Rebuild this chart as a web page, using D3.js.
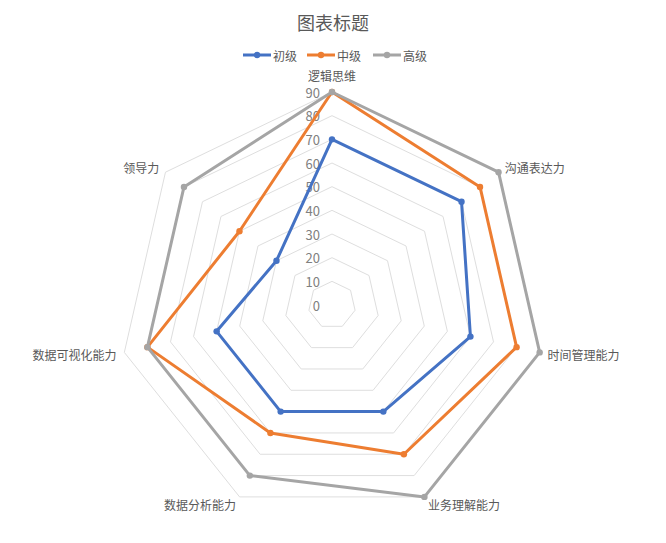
<!DOCTYPE html>
<html><head><meta charset="utf-8">
<script src="https://cdn.jsdelivr.net/npm/d3@7"></script>
<style>body{margin:0;background:#fff;} text{font-family:"Noto Sans CJK SC","Microsoft YaHei",sans-serif;}</style>
</head><body>
<svg id="c" width="666" height="543"></svg>
<script>
const categories = ["逻辑思维","沟通表达力","时间管理能力","业务理解能力","数据分析能力","数据可视化能力","领导力"];
const seriesNames = ["初级","中级","高级"];
const junior = [70,70,60,50,50,50,30];
const middle = [90,80,80,70,60,80,50];
const senior = [90,90,90,90,80,80,80];
const ticks = [0,10,20,30,40,50,60,70,80,90];
const colors = ["#4472C4","#ED7D31","#A5A5A5"];
const series = [junior, middle, senior];

const svg = d3.select("#c");
const cx = 332, cy = 305;
const r = d3.scaleLinear().domain([0,90]).range([0,213]);
const ang = d3.scaleLinear().domain([0,categories.length]).range([0,2*Math.PI]);
const pt = (i,v) => [cx + r(v)*Math.sin(ang(i)), cy - r(v)*Math.cos(ang(i))];

// title
svg.append("text").attr("x",333).attr("y",22).attr("text-anchor","middle").attr("dominant-baseline","central")
  .attr("font-size",18).attr("fill","#595959").text("图表标题");

// grid
const gridG = svg.append("g");
ticks.filter(t=>t>0).forEach(t=>{
  gridG.append("path").attr("d", d3.line()(categories.map((c,i)=>pt(i,t)))+"Z")
    .attr("fill","none").attr("stroke","#DEDEDE").attr("stroke-width",1);
});

// tick labels
svg.append("g").selectAll("text").data(ticks).join("text")
  .attr("x",320).attr("y",d=>cy - r(d)).attr("text-anchor","end").attr("dominant-baseline","central")
  .attr("font-size",13).attr("fill","#808080").text(d=>d);

// series
series.forEach((vals,k)=>{
  const g = svg.append("g");
  g.append("path").attr("d", d3.line()(vals.map((v,i)=>pt(i,v)))+"Z")
    .attr("fill","none").attr("stroke",colors[k]).attr("stroke-width",3).attr("stroke-linejoin","round");
  g.selectAll("circle").data(vals).join("circle")
    .attr("cx",(v,i)=>pt(i,v)[0]).attr("cy",(v,i)=>pt(i,v)[1]).attr("r",3.2).attr("fill",colors[k]);
});

// category labels
svg.append("g").selectAll("text").data(categories).join("text")
  .attr("x",(d,i)=>cx + (r(90)+8)*Math.sin(ang(i)))
  .attr("y",(d,i)=>cy - (r(90)+8)*Math.cos(ang(i)) - (i===0?9:0))
  .attr("text-anchor",(d,i)=>{const s=Math.sin(ang(i)); return s>0.1?"start":(s<-0.1?"end":"middle");})
  .attr("dominant-baseline","central").attr("font-size",12).attr("fill","#595959").text(d=>d);

// legend
const legX = [243,307,373];
const lg = svg.append("g");
seriesNames.forEach((n,k)=>{
  lg.append("line").attr("x1",legX[k]).attr("x2",legX[k]+28).attr("y1",55).attr("y2",55)
    .attr("stroke",colors[k]).attr("stroke-width",3);
  lg.append("circle").attr("cx",legX[k]+14).attr("cy",55).attr("r",3.2).attr("fill",colors[k]);
  lg.append("text").attr("x",legX[k]+30).attr("y",55).attr("dominant-baseline","central")
    .attr("font-size",12).attr("fill","#595959").text(n);
});
</script>
</body></html>
